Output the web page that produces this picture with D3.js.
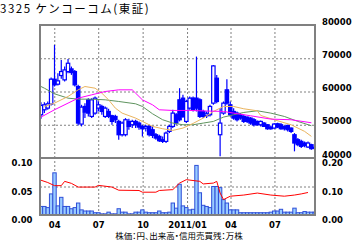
<!DOCTYPE html>
<html lang="ja">
<head>
<meta charset="utf-8">
<title>3325 ケンコーコム(東証)</title>
<style>
body { margin: 0; background: #fff; }
.jp { font-family: "Noto Sans CJK JP", sans-serif; fill: #000; }
.axis text { font-family: "DejaVu Sans", sans-serif; font-size: 8.5px; font-weight: bold; fill: #000; }
.grid line { stroke: #808080; stroke-dasharray: 2,2; }
.grid .domain { display: none; }
.frame { fill: none; stroke: #808080; stroke-width: 2; }
</style>
</head>
<body>
<div id="chart"></div>
<script src="https://d3js.org/d3.v7.min.js"></script>
<script>

// weekly bars, first week starts Mon 2010-03-01
const open  = [53000,54500,55000,56200,63700,62200,64800,63500,66000,66800,66000,61500,50200,55500,57500,52500,53500,55000,55500,52500,
               54000,52700,52500,51000,47000,47000,51000,50000,51000,50500,49500,49000,49500,48500,47000,46500,45500,45000,48000,49500,
               53000,57500,58000,51000,55000,58000,58000,57500,54000,52700,53000,56500,64000,47000,53500,60500,56000,54000,53500,53000,
               52500,52300,52000,51500,51000,50000,50500,50000,49300,49000,50300,50000,49500,49800,49000,47000,45500,45000,44500,43300,
               44000,43000];
const high  = [56800,56800,57000,64200,74000,65500,69500,67500,69800,67500,66500,62000,56000,56500,58000,58000,58500,57000,56000,55500,
               54800,53000,53000,51500,51000,52000,51800,51500,51500,51000,50000,50000,50000,49500,47500,47000,46500,48000,50000,54500,
               53500,61000,59000,57500,58500,58500,70500,58000,54500,54000,56000,68000,65000,55000,57000,63700,57000,55000,54000,53500,
               53000,52500,52300,52000,51300,51300,50800,50200,49800,50500,50600,50500,49800,50000,49200,47500,46000,45500,45000,45000,
               44300,43500];
const low   = [51800,53500,54500,55800,61500,61800,63800,63000,65500,65000,61500,49800,49500,52000,52500,52000,53000,54000,53000,52000,
               52000,50000,50500,45500,46500,46500,48500,49000,49000,48500,46500,48000,46500,46000,45500,44800,44500,44500,47500,49000,
               50000,51000,52000,50500,54500,54000,54000,52000,52000,52000,52500,56000,56500,40500,53000,56000,52500,51500,51000,51500,
               50500,50500,50000,49500,49800,49500,49300,48500,48500,48800,49000,48500,48300,48000,47500,42000,43500,43000,43200,43000,
               42500,42500];
const close = [55800,56000,56300,63700,62000,63200,66000,66500,68500,65700,62000,50500,55300,53800,53500,57500,58000,56000,54000,55000,
               52500,51000,51500,47000,50500,51500,49500,51000,50000,49300,48800,49500,47000,46800,46000,45200,45000,47500,49500,53500,
               50500,51500,52500,57000,58000,54500,55000,52500,52500,53300,55500,67700,57000,50500,56500,56500,53000,52000,51500,52000,
               51000,51000,50500,50000,50000,51000,49500,48800,48800,50200,49300,48800,48800,48500,48000,44500,44000,43500,43800,44500,
               42800,43200];

// volume (万株, left scale)
const volume = [0.015,0.015,0.013,0.037,0.074,0.016,0.031,0.015,0.015,0.011,0.013,0.021,0.009,0.007,0.007,0.007,0.004,0.004,0.002,0.002,
                0.005,0.002,0.002,0.011,0.005,0.005,0.002,0.002,0.005,0.005,0.009,0.005,0.004,0.004,0.004,0.007,0.004,0.004,0.005,0.021,
                0.012,0.054,0.016,0.013,0.009,0.010,0.087,0.039,0.017,0.015,0.013,0.050,0.050,0.048,0.027,0.021,0.009,0.009,0.009,0.004,
                0.004,0.004,0.004,0.004,0.004,0.004,0.004,0.004,0.005,0.007,0.007,0.010,0.005,0.005,0.005,0.012,0.004,0.004,0.006,0.005,
                0.005,0.005];

// moving averages, [week index, price]
const maOrangeWeeks = [1,4,8,11,13,16,18,20,22,24,28,30,33,36,39,42,45,48,51,54,57,60,64,65,69,74,78,80];
const maOrange = [55500,56500,58500,60500,61500,61000,59500,57500,55000,53500,52000,51000,49500,48800,48300,49000,50400,52000,54000,55500,
                  55500,54800,54200,52800,51500,50000,48000,46500];
const maGreenWeeks = [0,1,4,8,11,15,19,23,28,30,33,36,39,42,45,48,51,54,57,60,64,68,72,76,80];
const maGreen = [61500,61000,59300,58000,57700,57700,57500,57000,56300,55500,53300,51500,50500,50000,50000,50500,51000,52300,53000,53700,
                 54200,53500,52500,51000,49700];
const maPinkWeeks = [0,4,8,11,15,19,23,27,28,30,33,35,39,44,50,54,57,62,68,74,80];
const maPink = [52300,54500,56500,58000,59000,60000,60500,60500,59500,57500,56000,54500,54300,54300,54100,54000,53500,52700,51700,51500,50600];

// 信用売買残 ratio line (right scale)
const marginWeeks = [0,2,4,6,7,9,11,16,17,21,23,29,30,34,35,39,41,43,47,48,51,52,53,54,56,60,64,68,72,75,77,79];
const margin = [0.122,0.114,0.103,0.103,0.118,0.111,0.098,0.098,0.104,0.098,0.087,0.086,0.080,0.080,0.086,0.089,0.112,0.124,0.118,0.109,
                0.112,0.118,0.077,0.054,0.066,0.070,0.077,0.070,0.066,0.070,0.074,0.079];

const tickDates = [new Date(Date.UTC(2010,3,1)), new Date(Date.UTC(2010,6,1)), new Date(Date.UTC(2010,9,1)),
                   new Date(Date.UTC(2011,0,1)), new Date(Date.UTC(2011,3,1)), new Date(Date.UTC(2011,6,1))];
const tickLabels = ["04","07","10","2011/01","04","07"];
const priceTicks = [40000,50000,60000,70000,80000];
const volTicks = [0, 0.05, 0.10];
const marginTicks = [0, 0.10, 0.20];

const width = 355, height = 240,
    plotLeft = 40, plotRight = 315, plotTop = 25, plotMid = 158, plotBottom = 215;

const weekStart = new Date(Date.UTC(2010,2,1));
function weekDate(i, days) { return d3.utcHour.offset(weekStart, (i * 7 + days) * 24); }

var svg = d3.select("#chart")
    .append("svg")
    .attr("width", width)
    .attr("height", height);

var x = d3.scaleUtc()
    .domain([weekStart, new Date(Date.UTC(2011,8,23))])
    .range([39.3, plotRight]);
var yPrice = d3.scaleLinear().domain([40000, 80000]).range([plotMid, plotTop]);
var yVol = d3.scaleLinear().domain([0, 0.10]).range([plotBottom, plotMid]);
var yMargin = d3.scaleLinear().domain([0, 0.20]).range([plotBottom, plotMid]);

svg.append("clipPath").attr("id", "clipPrice")
  .append("rect").attr("x", plotLeft).attr("y", plotTop).attr("width", plotRight - plotLeft).attr("height", plotMid - plotTop);
svg.append("clipPath").attr("id", "clipVol")
  .append("rect").attr("x", plotLeft).attr("y", plotMid).attr("width", plotRight - plotLeft).attr("height", plotBottom - plotMid);

// grid lines
svg.append("g").attr("class", "grid")
    .attr("transform", "translate(0," + plotMid + ")")
    .call(d3.axisBottom(x).tickValues(tickDates).tickSize(-(plotMid - plotTop)).tickFormat(""));
svg.append("g").attr("class", "grid")
    .attr("transform", "translate(0," + plotBottom + ")")
    .call(d3.axisBottom(x).tickValues(tickDates).tickSize(-(plotBottom - plotMid)).tickFormat(""));
svg.append("g").attr("class", "grid")
    .attr("transform", "translate(" + plotLeft + ",0)")
    .call(d3.axisLeft(yPrice).tickValues([50000, 60000, 70000]).tickSize(-(plotRight - plotLeft)).tickFormat(""));
svg.append("g").attr("class", "grid")
    .attr("transform", "translate(" + plotLeft + ",0)")
    .call(d3.axisLeft(yVol).tickValues([0.05]).tickSize(-(plotRight - plotLeft)).tickFormat(""));

var idx = d3.range(open.length);
var bw = x(weekDate(0, 7)) - x(weekDate(0, 0));

// volume bars
svg.append("g")
    .attr("clip-path", "url(#clipVol)")
  .selectAll("rect")
  .data(idx)
  .enter().append("rect")
    .attr("x", function(i) { return x(weekDate(i, 0)); })
    .attr("y", function(i) { return yVol(volume[i]); })
    .attr("width", bw)
    .attr("height", function(i) { return plotBottom - yVol(volume[i]); })
    .attr("fill", "#99ccff")
    .attr("stroke", "#2f4fd8")
    .attr("stroke-width", 1);

// margin line
svg.append("path")
    .datum(d3.range(marginWeeks.length))
    .attr("fill", "none")
    .attr("stroke", "#ff0000")
    .attr("stroke-width", 1)
    .attr("d", d3.line()
        .x(function(k) { return x(weekDate(marginWeeks[k], 3.5)); })
        .y(function(k) { return yMargin(margin[k]); }));

// candles
var pricePlot = svg.append("g").attr("clip-path", "url(#clipPrice)");

var candle = pricePlot.selectAll("g")
    .data(idx)
    .enter().append("g");

candle.append("line")
    .attr("x1", function(i) { return x(weekDate(i, 3.5)); })
    .attr("x2", function(i) { return x(weekDate(i, 3.5)); })
    .attr("y1", function(i) { return yPrice(high[i]); })
    .attr("y2", function(i) { return yPrice(low[i]); })
    .attr("stroke", "#0000ff")
    .attr("stroke-width", 1.2);

candle.append("rect")
    .attr("x", function(i) { return x(weekDate(i, 0)); })
    .attr("width", bw)
    .attr("y", function(i) { return yPrice(Math.max(open[i], close[i])); })
    .attr("height", function(i) { return Math.max(1, Math.abs(yPrice(open[i]) - yPrice(close[i]))); })
    .attr("fill", function(i) { return close[i] >= open[i] ? "#ffffff" : "#0000ff"; })
    .attr("stroke", "#0000ff")
    .attr("stroke-width", 1.2);

// moving averages
function maLine(weeks, vals, color) {
  pricePlot.append("path")
      .datum(d3.range(weeks.length))
      .attr("fill", "none")
      .attr("stroke", color)
      .attr("stroke-width", 1)
      .attr("d", d3.line()
          .x(function(k) { return x(weekDate(weeks[k], 3.5)); })
          .y(function(k) { return yPrice(vals[k]); }));
}
maLine(maGreenWeeks, maGreen, "#5f945f");
maLine(maOrangeWeeks, maOrange, "#eab45e");
maLine(maPinkWeeks, maPink, "#ff00ff");

// frames
svg.append("rect").attr("class", "frame")
    .attr("x", plotLeft).attr("y", plotTop).attr("width", plotRight - plotLeft).attr("height", plotMid - plotTop);
svg.append("rect").attr("class", "frame")
    .attr("x", plotLeft).attr("y", plotMid).attr("width", plotRight - plotLeft).attr("height", plotBottom - plotMid);

// axes
function noDomain(g) { g.select(".domain").remove(); }

svg.append("g").attr("class", "axis")
    .attr("transform", "translate(" + plotRight + ",0)")
    .call(d3.axisRight(yPrice).tickValues(priceTicks).tickSize(0).tickPadding(7).tickFormat(d3.format("d")))
    .call(noDomain)
    .selectAll("text").attr("dy", null).attr("y", -1);

svg.append("g").attr("class", "axis")
    .attr("transform", "translate(" + plotRight + ",0)")
    .call(d3.axisRight(yMargin).tickValues(marginTicks).tickSize(0).tickPadding(7).tickFormat(d3.format(".2f")))
    .call(noDomain)
    .selectAll("text").attr("dy", null).attr("y", 7.5);

svg.append("g").attr("class", "axis")
    .attr("transform", "translate(" + plotLeft + ",0)")
    .call(d3.axisLeft(yVol).tickValues(volTicks).tickSize(0).tickPadding(7.5).tickFormat(d3.format(".2f")))
    .call(noDomain)
    .selectAll("text").attr("dy", null).attr("y", 7.5);

svg.append("g").attr("class", "axis")
    .attr("transform", "translate(0," + plotBottom + ")")
    .call(d3.axisBottom(x).tickValues(tickDates).tickSize(0).tickPadding(7)
        .tickFormat(function(d, i) { return tickLabels[i]; }))
    .call(noDomain);

// titles
svg.append("text")
    .attr("class", "jp")
    .attr("x", 0)
    .attr("y", 13)
    .style("font-size", "11.5px")
    .style("letter-spacing", "1.5px")
    .text("3325 ケンコーコム(東証)");

svg.append("text")
    .attr("class", "jp")
    .attr("x", 179)
    .attr("y", 238.5)
    .attr("text-anchor", "middle")
    .style("font-size", "8.5px")
    .style("font-feature-settings", "'palt'")
    .text("株価：円、出来高・信用売買残：万株");

</script>
</body>
</html>
